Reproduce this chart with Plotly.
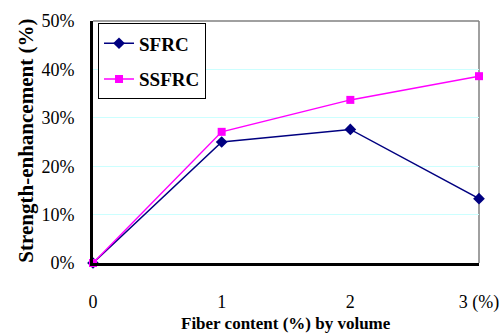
import plotly.graph_objects as go

fiber = [0, 1, 2, 3]
sfrc = [0.0, 0.250, 0.276, 0.133]
ssfrc = [0.0, 0.271, 0.337, 0.386]
x_tick_vals = [0, 1, 2, 3]
x_tick_text = ["0", "1", "2", "3 (%)"]
y_tick_vals = [0, 0.1, 0.2, 0.3, 0.4, 0.5]
y_tick_text = ["0%", "10%", "20%", "30%", "40%", "50%"]

serif = "Liberation Serif, Times New Roman, serif"

fig = go.Figure()
fig.add_trace(go.Scatter(
    x=fiber, y=sfrc, name="SFRC", mode="lines+markers",
    line=dict(color="#000080", width=1.5),
    marker=dict(symbol="diamond", size=9, color="#000080"),
    cliponaxis=False, legendgroup="a"))
fig.add_trace(go.Scatter(
    x=fiber, y=ssfrc, name="SSFRC", mode="lines+markers",
    line=dict(color="#ff00ff", width=1.5),
    marker=dict(symbol="square", size=8, color="#ff00ff"),
    cliponaxis=False, legendgroup="b"))

fig.update_layout(
    width=504, height=335,
    margin=dict(l=93, r=25, t=21, b=72),
    paper_bgcolor="white", plot_bgcolor="white",
    font=dict(family=serif, color="black", size=18),
    showlegend=True,
    legend=dict(x=0.013, y=0.99, xanchor="left", yanchor="top",
                bordercolor="black", borderwidth=1, bgcolor="white",
                font=dict(family=serif, size=19, weight="bold"),
                tracegroupgap=8, traceorder="grouped"),
    xaxis=dict(range=[0, 3], tickvals=x_tick_vals, ticktext=x_tick_text,
               showgrid=False, zeroline=False, showline=True,
               linecolor="black", linewidth=3, ticks="", automargin=False,
               ticklabelstandoff=20, tickfont=dict(size=18)),
    yaxis=dict(range=[0, 0.5], tickvals=y_tick_vals, ticktext=y_tick_text,
               showgrid=True, gridcolor="#ccffff", gridwidth=1,
               zeroline=False, showline=True, linecolor="black", linewidth=3,
               ticks="", ticklabelstandoff=12, tickfont=dict(size=18),
               automargin=False),
    shapes=[
        dict(type="line", xref="paper", yref="paper", x0=0, x1=1, y0=1, y1=1,
             line=dict(color="#808080", width=1.5), layer="below"),
        dict(type="line", xref="paper", yref="paper", x0=1, x1=1, y0=0, y1=1,
             line=dict(color="#808080", width=1.5), layer="below"),
    ],
    annotations=[
        dict(text="Fiber content (%) by volume", xref="paper", yref="paper",
             x=0.5, y=-0.25, xanchor="center", yanchor="middle",
             showarrow=False, font=dict(family=serif, size=17, weight="bold")),
        dict(text="Strength-enhancement (%)", xref="paper", yref="paper",
             x=-0.174, y=0.505, xanchor="center", yanchor="middle",
             textangle=-90, showarrow=False,
             font=dict(family=serif, size=21, weight="bold")),
    ],
)

fig.write_html("out.html")
